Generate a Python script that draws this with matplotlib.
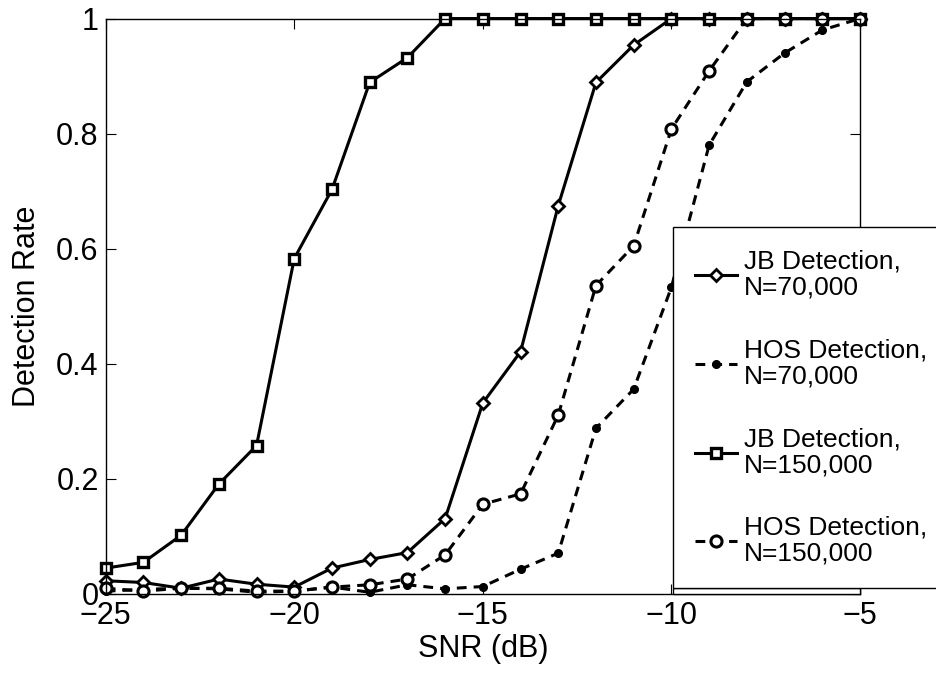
import matplotlib.pyplot as plt
from matplotlib.patches import Rectangle

plt.rcParams["font.family"] = ["Liberation Sans", "DejaVu Sans"]

# Dati
snr = [-25, -24, -23, -22, -21, -20, -19, -18, -17, -16, -15,
       -14, -13, -12, -11, -10, -9, -8, -7, -6, -5]

jb_70k = [0.023, 0.020, 0.010, 0.026, 0.017, 0.012, 0.045, 0.060, 0.072, 0.131, 0.332,
          0.421, 0.675, 0.889, 0.954, 1.0, 1.0, 1.0, 1.0, 1.0, 1.0]
hos_70k = [0.005, 0.008, 0.010, 0.009, 0.003, 0.005, 0.012, 0.003, 0.016, 0.009, 0.013,
           0.043, 0.071, 0.288, 0.356, 0.533, 0.780, 0.890, 0.940, 0.980, 1.0]
jb_150k = [0.045, 0.055, 0.102, 0.191, 0.258, 0.583, 0.703, 0.889, 0.932, 1.0, 1.0,
           1.0, 1.0, 1.0, 1.0, 1.0, 1.0, 1.0, 1.0, 1.0, 1.0]
hos_150k = [0.010, 0.005, 0.010, 0.010, 0.005, 0.005, 0.012, 0.016, 0.026, 0.068, 0.156,
            0.174, 0.311, 0.536, 0.605, 0.808, 0.909, 1.0, 1.0, 1.0, 1.0]

etichette = ["JB Detection,\nN=70,000", "HOS Detection,\nN=70,000",
             "JB Detection,\nN=150,000", "HOS Detection,\nN=150,000"]

fig = plt.figure(figsize=(9.37, 6.77), dpi=100)
ax = fig.add_axes([0.1128, 0.1226, 0.805, 0.850])

lw = 2.2
tratteggio = (0, (3.2, 2.3))
l1, = ax.plot(snr, jb_70k, color="black", lw=lw, marker="D", ms=6.5,
              mfc="white", mec="black", mew=2.0, clip_on=False)
l2, = ax.plot(snr, hos_70k, color="black", lw=lw, ls=tratteggio, marker="o", ms=5.5,
              mfc="black", mec="black", clip_on=False)
l3, = ax.plot(snr, jb_150k, color="black", lw=lw, marker="s", ms=7,
              mfc="white", mec="black", mew=2.4, clip_on=False)
l4, = ax.plot(snr, hos_150k, color="black", lw=lw, ls=tratteggio, marker="o", ms=8,
              mfc="white", mec="black", mew=2.2, clip_on=False)

ax.set_xlim(-25, -5)
ax.set_ylim(0, 1)
ax.set_xticks([-25, -20, -15, -10, -5])
ax.set_yticks([0, 0.2, 0.4, 0.6, 0.8, 1])
ax.set_yticklabels(["0", "0.2", "0.4", "0.6", "0.8", "1"])
ax.tick_params(direction="in", length=7, width=0.8, labelsize=22, pad=5,
               top=True, right=True)
for s in ax.spines.values():
    s.set_linewidth(1.0)

ax.set_xlabel("SNR (dB)", fontsize=22, labelpad=2)
ax.set_ylabel("Detection Rate", fontsize=22, labelpad=10)

# Legenda fuori dagli assi, come in MATLAB
leg = fig.legend([l1, l2, l3, l4], etichette, loc="lower left",
                 bbox_to_anchor=(0.718, 0.131, 0.30, 0.531),
                 bbox_transform=fig.transFigure, mode="expand",
                 fontsize=19, handlelength=1.6, handletextpad=0.25,
                 labelspacing=1.47, borderpad=0.85, borderaxespad=0,
                 fancybox=False, framealpha=1, edgecolor="black")
leg.get_frame().set_linewidth(1.0)
for t in leg.get_texts():
    t.set_linespacing(1.1)

# piccola cornice sotto la legenda
fig.add_artist(Rectangle((672.7 / 937, (677 - 594) / 677), (860 - 672.7) / 937,
                         6 / 677, transform=fig.transFigure, facecolor="white",
                         edgecolor="black", lw=1.0, zorder=4))

plt.savefig("out.png", dpi=100)
